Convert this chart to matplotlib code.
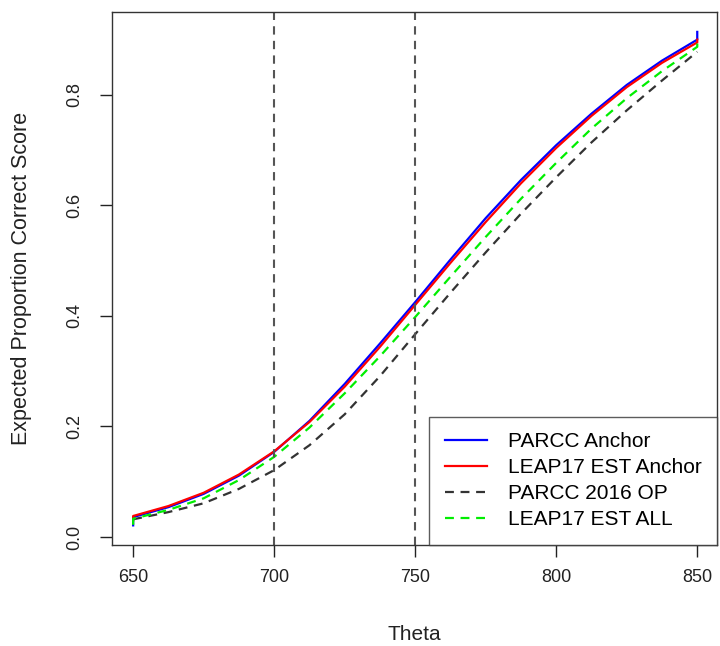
import matplotlib
matplotlib.use("Agg")
import matplotlib.pyplot as plt

plt.rcParams['font.family'] = ['Liberation Sans', 'DejaVu Sans']

theta = [650, 662.5, 675, 687.5, 700, 712.5, 725, 737.5, 750,
         762.5, 775, 787.5, 800, 812.5, 825, 837.5, 850]

parcc_anchor = [0.036, 0.054, 0.078, 0.111, 0.154, 0.210, 0.277, 0.350, 0.425,
                0.502, 0.577, 0.646, 0.709, 0.766, 0.818, 0.862, 0.900]
leap_anchor = [0.038, 0.056, 0.080, 0.113, 0.155, 0.208, 0.272, 0.344, 0.420,
               0.496, 0.570, 0.640, 0.704, 0.762, 0.814, 0.858, 0.895]
parcc_op = [0.032, 0.045, 0.061, 0.087, 0.121, 0.166, 0.222, 0.291, 0.367,
            0.442, 0.515, 0.585, 0.651, 0.714, 0.772, 0.826, 0.878]
leap_all = [0.033, 0.049, 0.070, 0.103, 0.145, 0.198, 0.260, 0.327, 0.398,
            0.471, 0.543, 0.612, 0.677, 0.739, 0.794, 0.843, 0.887]

# endpoint values (small jumps at the ends of the theta range)
parcc_anchor_ends = [0.021, 0.914]
leap_anchor_ends = [0.030, 0.900]
parcc_op_ends = [0.032, 0.878]
leap_all_ends = [0.022, 0.896]

labels = ["PARCC Anchor", "LEAP17 EST Anchor", "PARCC 2016 OP", "LEAP17 EST ALL"]
cut_scores = [700, 750]
xticks = [650, 700, 750, 800, 850]
yticks = [0.0, 0.2, 0.4, 0.6, 0.8]

fig = plt.figure(figsize=(7.2, 6.46), dpi=100)
ax = fig.add_axes([112/720, 1 - 545/646, (717-112)/720, (545-12)/646])

def with_ends(y, ends):
    return [theta[0]] + theta + [theta[-1]], [ends[0]] + y + [ends[1]]

series = [
    (parcc_anchor, parcc_anchor_ends, dict(color='#0000FF', ls='-')),
    (leap_anchor, leap_anchor_ends, dict(color='#FF0000', ls='-')),
    (parcc_op, parcc_op_ends, dict(color='#333333', dashes=(4, 3))),
    (leap_all, leap_all_ends, dict(color='#00EE00', dashes=(4, 3))),
]
handles = []
for (y, ends, st), lab in zip(series, labels):
    xs, ys = with_ends(y, ends)
    h, = ax.plot(xs, ys, lw=1.6, label=lab, **st)
    handles.append(h)

for c in cut_scores:
    ax.axvline(c, color='#555555', lw=1.5, dashes=(4, 3))

ax.set_xlim(642.5, 857)
ax.set_ylim(-0.0145, 0.950)
ax.set_xticks(xticks)
ax.set_xticklabels([str(t) for t in xticks])
ax.set_yticks(yticks)
ax.set_yticklabels([f"{t:.1f}" for t in yticks], rotation=90, va='center')
ax.tick_params(direction='out', length=8.5, width=1, labelsize=13, colors='#222222')
ax.tick_params(axis='x', pad=9)
ax.tick_params(axis='y', pad=12)
for s in ax.spines.values():
    s.set_color('#333333')
    s.set_linewidth(1)

ax.set_xlabel("Theta", fontsize=15, color='#222222', va='center')
ax.xaxis.set_label_coords(0.5, (545 - 634) / 533)
ax.set_ylabel("Expected Proportion Correct Score", fontsize=15.5, color='#222222')
ax.yaxis.set_label_coords((32 - 112) / 605, 0.5)

leg = ax.legend(handles=handles, loc='lower right', fontsize=15, frameon=True,
                fancybox=False, edgecolor='#333333', borderaxespad=0,
                handlelength=2.0, borderpad=0.75, labelspacing=0.34, handletextpad=1.0)
leg.get_frame().set_linewidth(1)

fig.savefig("out.png", dpi=100)
